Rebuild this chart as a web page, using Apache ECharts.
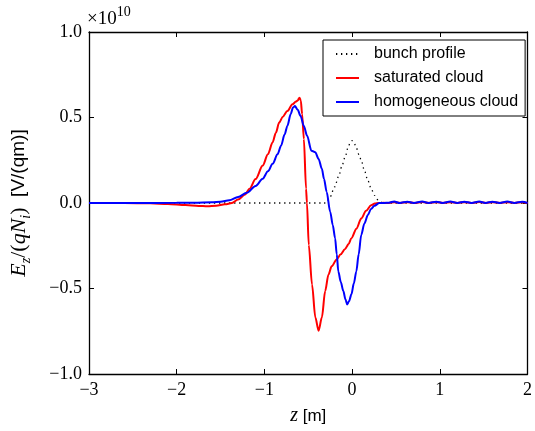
<!DOCTYPE html>
<html>
<head>
<meta charset="utf-8">
<script src="https://cdn.jsdelivr.net/npm/echarts@6/dist/echarts.min.js"></script>
<style>
  html, body { margin: 0; padding: 0; background: #fff; }
  #chart { width: 535px; height: 431px; }
</style>
</head>
<body>
<div id="chart"></div>
<script>
// Longitudinal electric field along the bunch, in units of 1e10 V/(qm)

// Bunch line density (arbitrary scale), dotted
const bunchZ = [-3.0, -0.3, -0.25, -0.2, -0.15, -0.12, -0.08, -0.045, -0.02, 0.0,
                0.02, 0.05, 0.08, 0.105, 0.14, 0.18, 0.22, 0.255, 0.3, 0.35, 2.0];
const bunchP = [0, 0, 0.036, 0.094, 0.16, 0.21, 0.268, 0.326, 0.355, 0.364,
                0.355, 0.32, 0.28, 0.248, 0.19, 0.132, 0.08, 0.045, 0.015, 0, 0];

// Saturated electron cloud
const satZ = [-3.0, -2.6, -2.3, -2.1, -1.9, -1.75, -1.65, -1.55, -1.45, -1.37,
              -1.3, -1.22, -1.169, -1.1, -1.019, -0.96, -0.906, -0.87, -0.831, -0.79,
              -0.738, -0.68, -0.64, -0.62, -0.6, -0.585, -0.57, -0.55, -0.525, -0.515,
              -0.494, -0.457, -0.419, -0.382, -0.345, -0.307, -0.27, -0.233, -0.176, -0.13,
              -0.082, -0.04, -0.008, 0.05, 0.104, 0.16, 0.217, 0.26, 0.3, 0.36,
              0.42, 0.48, 0.55, 0.63, 0.71, 0.8, 0.88, 0.96, 1.04, 1.12,
              1.2, 1.28, 1.36, 1.45, 1.53, 1.6, 1.69, 1.77, 1.85, 1.94, 2.0];
const satE = [0, 0, -0.002, -0.006, -0.012, -0.017, -0.019, -0.016, -0.008, 0,
              0.02, 0.05, 0.084, 0.14, 0.219, 0.285, 0.355, 0.41, 0.471, 0.505,
              0.538, 0.577, 0.593, 0.6, 0.616, 0.6, 0.52, 0.374, 0.084, 0,
              -0.245, -0.476, -0.67, -0.747, -0.67, -0.515, -0.419, -0.37, -0.33, -0.3,
              -0.27, -0.24, -0.206, -0.15, -0.09, -0.045, -0.013, -0.003, 0, 0.001,
              0.0, 0.005, 0.0, 0.005, 0.0, 0.006, 0.0, 0.005, 0.0, 0.005,
              0.0, 0.005, 0.0, 0.006, 0.0, 0.005, 0.0, 0.005, 0.0, 0.005, 0.0];

// Homogeneous electron cloud
const homZ = [-3.0, -2.5, -2.0, -1.8, -1.6, -1.5, -1.4, -1.3, -1.2, -1.1,
              -1.019, -0.96, -0.906, -0.85, -0.81, -0.77, -0.738, -0.7, -0.674, -0.652,
              -0.62, -0.588, -0.55, -0.513, -0.464, -0.42, -0.382, -0.345, -0.32, -0.29,
              -0.25, -0.22, -0.194, -0.175, -0.157, -0.13, -0.1, -0.075, -0.056, -0.035,
              -0.008, 0.02, 0.048, 0.075, 0.104, 0.14, 0.18, 0.215, 0.255, 0.31,
              0.36, 0.42, 0.48, 0.54, 0.63, 0.7, 0.8, 0.87, 0.96, 1.03,
              1.12, 1.2, 1.28, 1.36, 1.45, 1.52, 1.6, 1.68, 1.77, 1.85,
              1.94, 2.0];
const homE = [0, 0, 0.001, 0.002, 0.004, 0.008, 0.016, 0.035, 0.06, 0.1,
              0.142, 0.185, 0.229, 0.285, 0.335, 0.4, 0.451, 0.52, 0.558, 0.567,
              0.545, 0.509, 0.45, 0.393, 0.306, 0.297, 0.258, 0.2, 0.14, 0.065,
              -0.051, -0.13, -0.206, -0.3, -0.4, -0.46, -0.515, -0.565, -0.593, -0.575,
              -0.534, -0.47, -0.4, -0.3, -0.187, -0.12, -0.07, -0.035, -0.016, 0.0,
              0.0, 0.002, 0.009, 0.0, 0.008, 0.0, 0.009, 0.0, 0.008, 0.0,
              0.009, 0.0, 0.008, 0.0, 0.009, 0.0, 0.008, 0.0, 0.009, 0.0,
              0.008, 0.0];

const xTicks = { min: -3, max: 2, step: 1 };
const yTicks = { min: -1, max: 1, step: 0.5 };

const pairs = (xs, ys) => xs.map((x, i) => [x, ys[i]]);
const minus = s => s.replace('-', '\u2212');

const serif = 'Liberation Serif';
const sans = 'Liberation Sans';

const chart = echarts.init(document.getElementById('chart'), null, { renderer: 'canvas' });

const axisLine = { show: true, onZero: false, lineStyle: { color: '#000', width: 1.3 } };
const axisTick = { show: true, inside: true, length: 5, lineStyle: { color: '#000', width: 1 } };

chart.setOption({
  backgroundColor: '#fff',
  animation: false,
  grid: { left: 87, top: 32, right: 3, bottom: 54, containLabel: false },
  legend: {
    orient: 'vertical',
    left: 323, top: 40,
    padding: [6, 7, 6, 12],
    itemWidth: 23, itemHeight: 15, itemGap: 8,
    itemStyle: { opacity: 0 },
    backgroundColor: '#fff',
    borderColor: '#000', borderWidth: 1, borderRadius: 0,
    textStyle: { fontFamily: sans, fontSize: 16, color: '#000', lineHeight: 16, padding: [0, 0, 0, 10] },
    data: ['bunch profile', 'saturated cloud', 'homogeneous cloud']
  },
  xAxis: [{
    type: 'value', position: 'bottom',
    min: xTicks.min, max: xTicks.max, interval: xTicks.step,
    axisLine, axisTick, splitLine: { show: false },
    axisLabel: {
      margin: 7, color: '#000', fontFamily: serif, fontSize: 18,
      formatter: v => minus(String(v))
    },
    name: '{it|z}{s| [m]}',
    nameLocation: 'middle', nameGap: 32,
    nameTextStyle: {
      rich: {
        it: { fontFamily: serif, fontStyle: 'italic', fontSize: 20, color: '#000' },
        s: { fontFamily: sans, fontSize: 17, color: '#000' }
      }
    }
  }, {
    type: 'value', position: 'top',
    min: xTicks.min, max: xTicks.max, interval: xTicks.step,
    axisLine, axisTick, axisLabel: { show: false }, splitLine: { show: false }
  }],
  yAxis: [{
    type: 'value', position: 'left',
    min: yTicks.min, max: yTicks.max, interval: yTicks.step,
    axisLine, axisTick, splitLine: { show: false },
    axisLabel: {
      margin: 7, color: '#000', fontFamily: serif, fontSize: 18,
      formatter: v => minus(v.toFixed(1))
    },
    name: '{it|E}{sub|z}{n|/(}{it|qN}{sub|i}{n|)}{s|  [V/(qm)]}',
    nameLocation: 'middle', nameGap: 56, nameRotate: 90,
    nameTextStyle: {
      rich: {
        it: { fontFamily: serif, fontStyle: 'italic', fontSize: 22, color: '#000', lineHeight: 28, verticalAlign: 'middle' },
        n: { fontFamily: serif, fontSize: 22, color: '#000', lineHeight: 28, verticalAlign: 'middle' },
        sub: { fontFamily: serif, fontStyle: 'italic', fontSize: 14, color: '#000', lineHeight: 28, verticalAlign: 'bottom' },
        s: { fontFamily: sans, fontSize: 19, color: '#000', lineHeight: 28, verticalAlign: 'middle' }
      }
    }
  }, {
    type: 'value', position: 'right',
    min: yTicks.min, max: yTicks.max, interval: yTicks.step,
    axisLine, axisTick, axisLabel: { show: false }, splitLine: { show: false }
  }],
  graphic: [{
    type: 'text', left: 87, top: 5,
    style: {
      text: '{a|\u00d710}{b|10}',
      rich: {
        a: { fontFamily: serif, fontSize: 19, fill: '#000', lineHeight: 24, verticalAlign: 'bottom' },
        b: { fontFamily: serif, fontSize: 14, fill: '#000', lineHeight: 24, verticalAlign: 'top' }
      }
    }
  }],
  series: [{
    name: 'bunch profile', type: 'line', symbol: 'none',
    data: pairs(bunchZ, bunchP), smooth: 0.3, smoothMonotone: 'x',
    lineStyle: { color: '#000', width: 1.3, type: [1.3, 3.7] },
    itemStyle: { color: '#000' }
  }, {
    name: 'saturated cloud', type: 'line', symbol: 'none',
    data: pairs(satZ, satE), smooth: 0.3, smoothMonotone: 'x',
    lineStyle: { color: '#ff0000', width: 2 },
    itemStyle: { color: '#ff0000' }
  }, {
    name: 'homogeneous cloud', type: 'line', symbol: 'none',
    data: pairs(homZ, homE), smooth: 0.3, smoothMonotone: 'x',
    lineStyle: { color: '#0000ff', width: 2 },
    itemStyle: { color: '#0000ff' }
  }]
});
</script>
</body>
</html>
